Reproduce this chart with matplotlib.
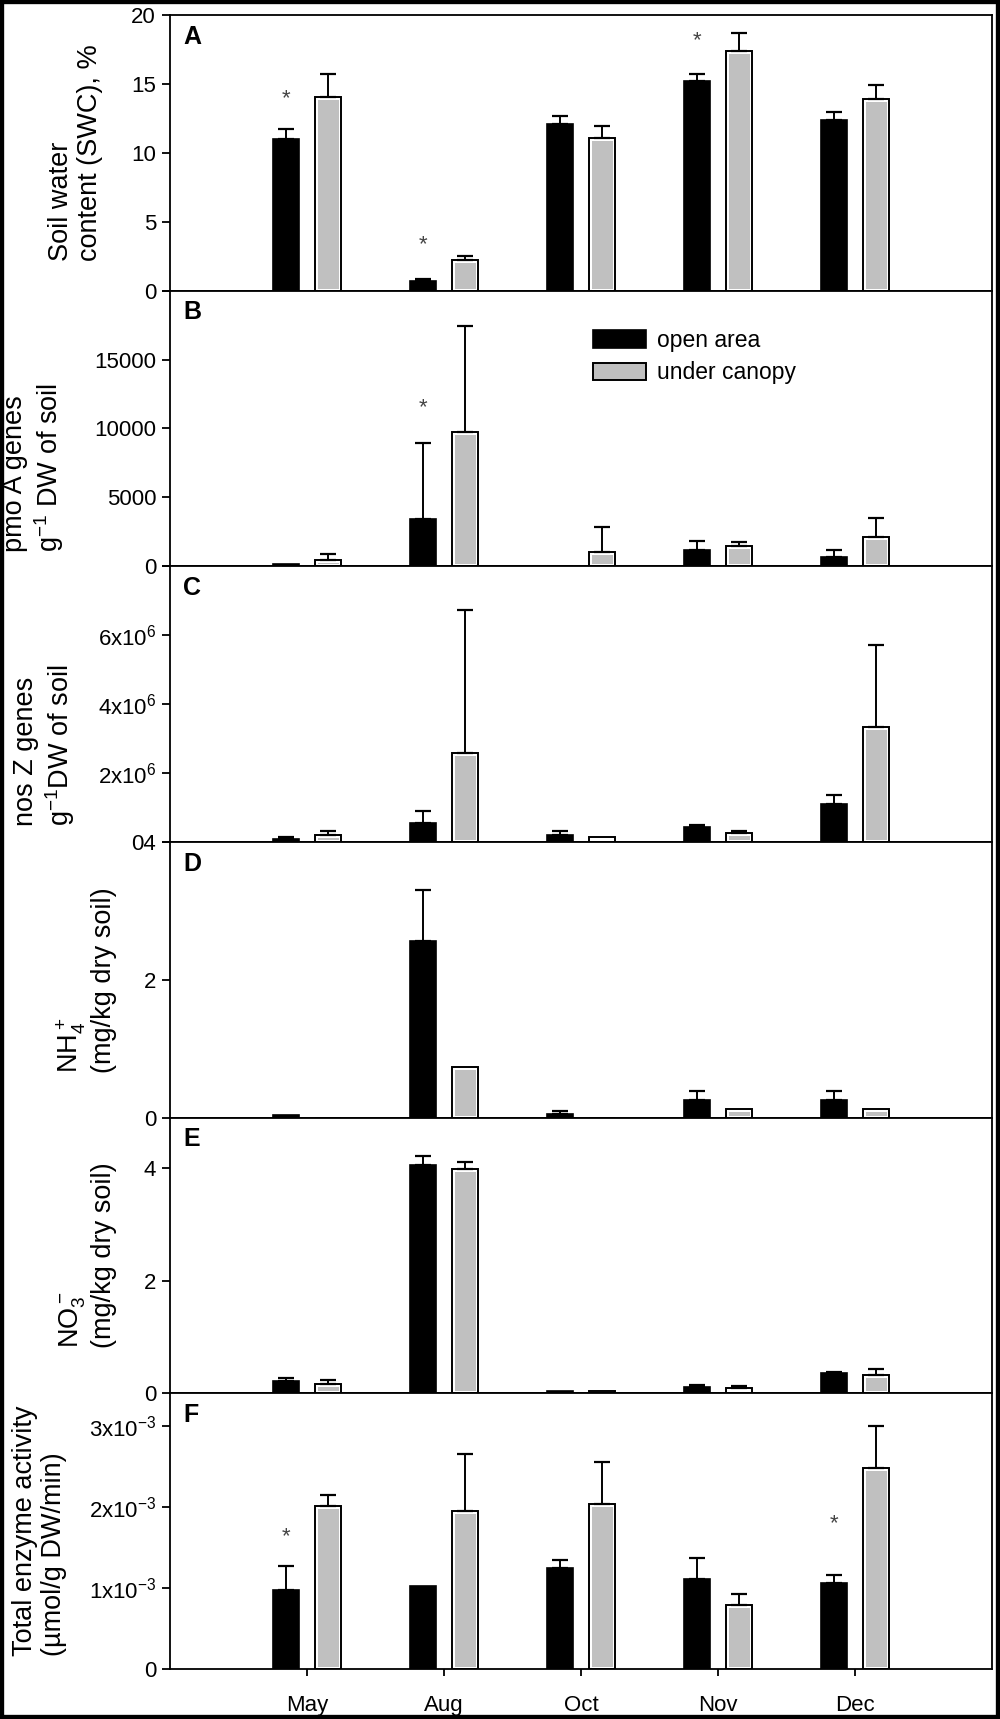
import matplotlib
matplotlib.use("Agg")
import matplotlib.pyplot as plt
from matplotlib.patches import Rectangle, Patch
import numpy as np

plt.rcParams['font.family'] = ['Liberation Sans', 'DejaVu Sans']
plt.rcParams['mathtext.default'] = 'regular'

# ---- data ----
months = ['May', 'Aug', 'Oct', 'Nov', 'Dec']

swc_open = [11.0, 0.7, 12.1, 15.2, 12.4]
swc_open_se = [0.7, 0.15, 0.6, 0.55, 0.55]
swc_canopy = [14.05, 2.2, 11.1, 17.4, 13.9]
swc_canopy_se = [1.65, 0.3, 0.85, 1.3, 1.0]

pmoa_open = [150, 3400, 0, 1200, 650]
pmoa_open_se = [0, 5560, 0, 650, 500]
pmoa_canopy = [480, 9750, 1030, 1490, 2160]
pmoa_canopy_se = [410, 7650, 1830, 240, 1370]

nosz_open = [0.1e6, 0.54e6, 0.2e6, 0.44e6, 1.1e6]
nosz_open_se = [0.03e6, 0.37e6, 0.11e6, 0.05e6, 0.26e6]
nosz_canopy = [0.2e6, 2.59e6, 0.13e6, 0.27e6, 3.35e6]
nosz_canopy_se = [0.12e6, 4.15e6, 0, 0.05e6, 2.38e6]

nh4_open = [0.04, 2.56, 0.05, 0.25, 0.25]
nh4_open_se = [0, 0.74, 0.05, 0.13, 0.13]
nh4_canopy = [0, 0.73, 0, 0.13, 0.13]
nh4_canopy_se = [0, 0, 0, 0, 0]

no3_open = [0.21, 4.05, 0.04, 0.12, 0.36]
no3_open_se = [0.07, 0.17, 0, 0.03, 0.02]
no3_canopy = [0.17, 3.99, 0.04, 0.10, 0.32]
no3_canopy_se = [0.07, 0.13, 0, 0.03, 0.12]

enz_open = [0.97e-3, 1.02e-3, 1.25e-3, 1.11e-3, 1.06e-3]
enz_open_se = [0.30e-3, 0, 0.09e-3, 0.26e-3, 0.10e-3]
enz_canopy = [2.01e-3, 1.95e-3, 2.03e-3, 0.79e-3, 2.48e-3]
enz_canopy_se = [0.13e-3, 0.70e-3, 0.52e-3, 0.13e-3, 0.52e-3]

# significance stars: (month index, height)
stars_a = [(0, 13.9), (1, 3.3), (3, 18.1)]
stars_b = [(1, 11500)]
stars_f = [(0, 1.63e-3), (4, 1.79e-3)]

panels = [
    dict(letter='A', open=swc_open, open_se=swc_open_se, can=swc_canopy, can_se=swc_canopy_se,
         ylim=20, ticks=[0, 5, 10, 15, 20], labels=['0', '5', '10', '15', '20'],
         ylabel='Soil water\ncontent (SWC), %', lab=(-0.082, 0.5), stars=stars_a),
    dict(letter='B', open=pmoa_open, open_se=pmoa_open_se, can=pmoa_canopy, can_se=pmoa_canopy_se,
         ylim=20000, ticks=[0, 5000, 10000, 15000, 20000], labels=['0', '5000', '10000', '15000', ''],
         ylabel='pmo A genes\ng$^{-1}$ DW of soil', lab=(-0.1265, 0.358), stars=stars_b),
    dict(letter='C', open=nosz_open, open_se=nosz_open_se, can=nosz_canopy, can_se=nosz_canopy_se,
         ylim=8e6, ticks=[0, 2e6, 4e6, 6e6, 8e6],
         labels=['04', '2x10$^6$', '4x10$^6$', '6x10$^6$', ''],
         ylabel='nos Z genes\ng$^{-1}$DW of soil', lab=(-0.113, 0.351), stars=[]),
    dict(letter='D', open=nh4_open, open_se=nh4_open_se, can=nh4_canopy, can_se=nh4_canopy_se,
         ylim=4, ticks=[0, 2, 4], labels=['0', '2', ''],
         ylabel='NH$_4^+$\n(mg/kg dry soil)', lab=(-0.0645, 0.5), stars=[]),
    dict(letter='E', open=no3_open, open_se=no3_open_se, can=no3_canopy, can_se=no3_canopy_se,
         ylim=4.9, ticks=[0, 2, 4], labels=['0', '2', '4'],
         ylabel='NO$_3^-$\n(mg/kg dry soil)', lab=(-0.0645, 0.5), stars=[]),
    dict(letter='F', open=enz_open, open_se=enz_open_se, can=enz_canopy, can_se=enz_canopy_se,
         ylim=3.4e-3, ticks=[0, 1e-3, 2e-3, 3e-3],
         labels=['0', '1x10$^{-3}$', '2x10$^{-3}$', '3x10$^{-3}$'],
         ylabel='Total enzyme activity\n(µmol/g DW/min)', lab=(-0.125, 0.5), stars=stars_f),
]

GRAY = '#c0c0c0'
BAR_W = 0.19
OFF = 0.15

fig, axes = plt.subplots(6, 1, figsize=(10, 17.19), dpi=100, sharex=True)
fig.subplots_adjust(left=0.17, right=0.992, top=0.9913, bottom=0.0291, hspace=0)

x = np.arange(1, len(months) + 1)


def add_err(ax, xs, vals, se):
    vals = np.asarray(vals, float)
    se = np.asarray(se, float)
    m = se > 0
    if m.any():
        ax.errorbar(xs[m], vals[m], yerr=[np.zeros(m.sum()), se[m]], fmt='none',
                    ecolor='black', elinewidth=1.4, capsize=6, capthick=1.6, zorder=4)


for ax, p in zip(axes, panels):
    ax.bar(x - OFF, p['open'], BAR_W, color='black', edgecolor='black', linewidth=1.2, zorder=2)
    # grey bars: black outline with a thin white inner line
    ax.bar(x + OFF, p['can'], BAR_W, color=GRAY, edgecolor='white', linewidth=3.6, zorder=2)
    ax.bar(x + OFF, p['can'], BAR_W, facecolor='none', edgecolor='black', linewidth=1.4, zorder=3)
    add_err(ax, x - OFF, p['open'], p['open_se'])
    add_err(ax, x + OFF, p['can'], p['can_se'])

    for mi, yv in p['stars']:
        ax.text(x[mi] - OFF, yv, '*', ha='center', va='center', fontsize=16, color='#444444')

    ax.set_xlim(0, 6)
    ax.set_ylim(0, p['ylim'])
    ax.set_yticks(p['ticks'])
    ax.set_yticklabels(p['labels'])
    ax.tick_params(axis='y', direction='out', length=6, width=1.3, labelsize=16, pad=4)
    ax.tick_params(axis='x', direction='out', length=5, width=1.3, labelsize=16, pad=14)
    for s in ax.spines.values():
        s.set_linewidth(1.3)

    ax.set_ylabel(p['ylabel'], fontsize=19.5, linespacing=1.15, multialignment='left')
    ax.yaxis.set_label_coords(*p['lab'])
    ax.text(0.016, 0.921, p['letter'], transform=ax.transAxes, fontsize=18,
            fontweight='bold', ha='left', va='center')

axes[-1].set_xticks(x)
axes[-1].set_xticklabels(months)

# legend in panel B
handles = [Patch(facecolor='black', edgecolor='black', linewidth=1.2),
           Patch(facecolor=GRAY, edgecolor='black', linewidth=1.4)]
axes[1].legend(handles, ['open area', 'under canopy'], loc='upper left',
               bbox_to_anchor=(0.515, 0.86), frameon=False, fontsize=16.5,
               handlelength=2.3, handleheight=0.8, handletextpad=0.5,
               labelspacing=0.4, borderpad=0, borderaxespad=0)

# outer border of the figure
fig.patches.append(Rectangle((0, 0), 1, 1, transform=fig.transFigure, fill=False,
                             edgecolor='black', linewidth=6, zorder=10))

fig.savefig('out.png', dpi=100)
